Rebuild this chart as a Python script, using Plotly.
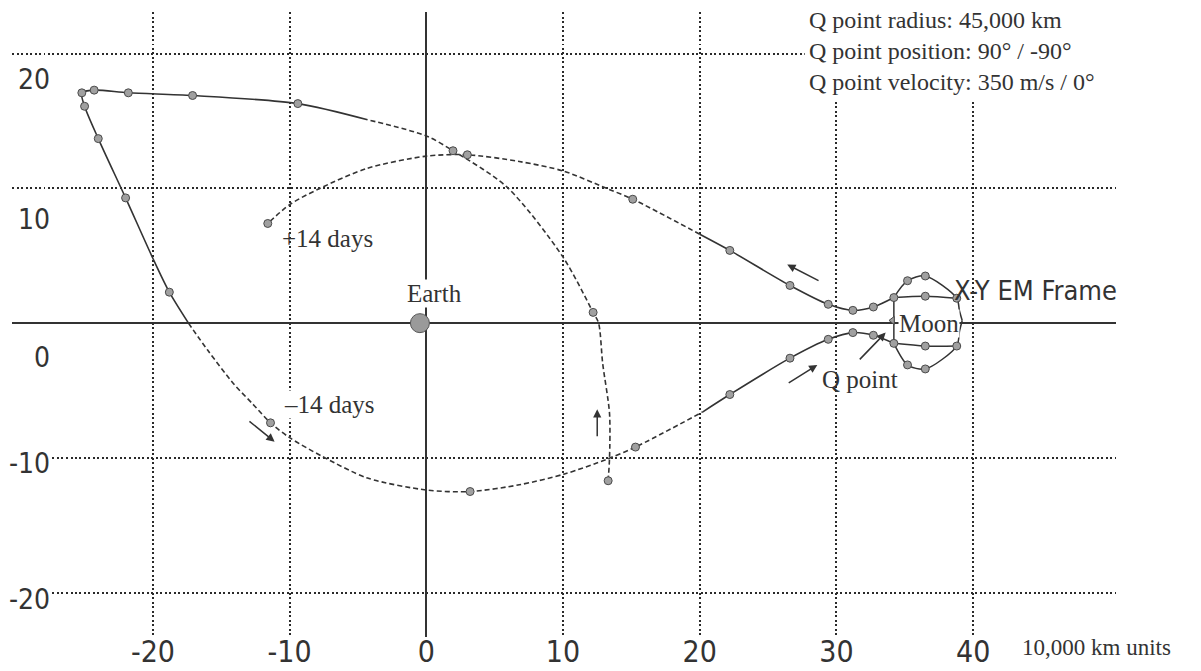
import plotly.graph_objects as go

# ---------------- data (10,000 km units, Earth-Moon rotating frame) ----------------
x_ticks = [-20, -10, 0, 10, 20, 30, 40]
x_tick_labels = ["-20", "-10", "0", "10", "20", "30", "40"]
y_ticks = [20, 10, 0, -10, -20]
y_tick_labels = ["20", "10", "0", "-10", "-20"]

# backward-propagated trajectory (time order, ends at the lower Q point)
past_x = [13.3, 13.4, 13.4, 12.9, 12.6, 12.2, 10.0, 5.9, 1.95, 0.0, -4.3, -9.4,
          -17.1, -21.8, -24.3, -25.2, -25.0, -24.0, -22.0, -20.0, -18.8, -17.4,
          -16.0, -14.1, -12.7, -11.4, -10.0, -7.6, -4.3, 0.1, 3.2, 6.8, 10.1,
          13.2, 15.3, 20.2, 22.2, 26.6, 29.4, 31.2, 32.7, 34.2]
past_y = [-11.7, -10.0, -6.7, -3.0, 0.0, 0.8, 4.9, 10.1, 12.8, 13.9, 15.1, 16.3,
          16.9, 17.1, 17.3, 17.1, 16.1, 13.7, 9.3, 4.8, 2.3, 0.0,
          -2.0, -4.5, -6.0, -7.4, -8.5, -9.9, -11.5, -12.4, -12.5, -12.0, -11.2,
          -10.1, -9.2, -6.6, -5.3, -2.6, -1.2, -0.7, -0.9, -1.5]
past_dot = [1, 0, 0, 0, 0, 1, 0, 0, 1, 0, 0, 1,
            1, 1, 1, 1, 1, 1, 1, 0, 1, 0,
            0, 0, 0, 1, 0, 0, 0, 0, 1, 0, 0,
            0, 1, 0, 1, 1, 1, 1, 1, 1]

# forward-propagated trajectory (from the upper Q point to +14 days)
future_x = [34.2, 32.7, 31.2, 29.4, 26.6, 22.2, 20.0, 15.1, 13.2, 10.0, 6.8,
            3.0, 0.0, -4.3, -7.8, -10.0, -11.6]
future_y = [1.9, 1.2, 0.95, 1.4, 2.8, 5.4, 6.6, 9.2, 10.0, 11.3, 12.0,
            12.5, 12.4, 11.5, 10.0, 8.8, 7.4]
future_dot = [1, 1, 1, 1, 1, 1, 0, 1, 0, 0, 0,
              1, 0, 0, 0, 0, 1]

# loops around the Moon
upper_outer_x = [34.2, 35.2, 36.5, 38.8, 39.0, 39.2]
upper_outer_y = [1.9, 3.15, 3.5, 1.85, 0.9, 0.2]
upper_outer_dot = [0, 1, 1, 1, 0, 0]
upper_inner_x = [34.2, 36.5, 38.8]
upper_inner_y = [1.9, 2.0, 1.85]
upper_inner_dot = [0, 1, 0]
lower_outer_x = [34.2, 35.2, 36.5, 38.8, 39.0, 39.2]
lower_outer_y = [-1.5, -3.1, -3.4, -1.7, -0.6, 0.2]
lower_outer_dot = [0, 1, 1, 1, 0, 0]
lower_inner_x = [34.2, 36.5, 38.8]
lower_inner_y = [-1.5, -1.7, -1.7]
lower_inner_dot = [0, 1, 0]
moon_edge_x = [34.2, 34.2]
moon_edge_y = [1.9, -1.5]
q_mark_x = [34.1]
q_mark_y = [0.2]

earth_x = [-0.47]
earth_y = [0.0]

# direction arrows: tail -> head
arrow_tail_x = [-13.05, 12.5, 26.4, 28.8, 31.6]
arrow_tail_y = [-7.2, -8.5, -4.5, 3.1, -2.8]
arrow_head_x = [-11.1, 12.5, 28.6, 26.4, 33.6]
arrow_head_y = [-8.8, -6.4, -3.1, 4.35, -0.7]

# text labels
info_lines = ["Q point radius: 45,000 km",
              "Q point position: 90\u00b0 / -90\u00b0",
              "Q point velocity: 350 m/s / 0\u00b0"]
label_texts = ["+14 days", "\u201314 days", "Earth", "Moon", "Q point"]
label_x = [-10.6, -10.5, -1.5, 36.8, 28.9]
label_y = [6.25, -6.05, 2.2, 0.0, -4.2]
frame_label = "X-Y EM Frame"
unit_label = "10,000 km units"

# ---------------- styling ----------------
INK = "#333333"
GRID = "#2a2a2a"
PLOTTER = "'Liberation Sans Narrow', 'DejaVu Sans Condensed', 'Roboto Condensed', 'DejaVu Sans Mono', monospace"
SERIF = "'Liberation Serif', 'DejaVu Serif', serif"
DOT_FILL = "#a0a0a0"

fig = go.Figure()


def add_path(xs, ys, dash, width=1.6):
    fig.add_trace(go.Scatter(x=xs, y=ys, mode="lines",
                             line=dict(color=INK, width=width, dash=dash,
                                       shape="spline", smoothing=0.8),
                             hoverinfo="skip"))


def add_dots(xs, ys, flags):
    fx = [x for x, f in zip(xs, flags) if f]
    fy = [y for y, f in zip(ys, flags) if f]
    fig.add_trace(go.Scatter(x=fx, y=fy, mode="markers",
                             marker=dict(size=8, color=DOT_FILL,
                                         line=dict(color="#4a4a4a", width=1)),
                             hoverinfo="skip"))


DASH = "5px,3px"
# backward trajectory: dashed / solid portions as in the plotter output
add_path(past_x[0:11], past_y[0:11], DASH)
add_path(past_x[10:22], past_y[10:22], "solid")
add_path(past_x[21:36], past_y[21:36], DASH)
add_path(past_x[35:], past_y[35:], "solid")
# forward trajectory
add_path(future_x[0:7], future_y[0:7], "solid")
add_path(future_x[6:], future_y[6:], DASH)
# Moon loops
for lx, ly in [(upper_outer_x, upper_outer_y), (upper_inner_x, upper_inner_y),
               (lower_outer_x, lower_outer_y), (lower_inner_x, lower_inner_y)]:
    add_path(lx, ly, "solid", 1.5)
fig.add_trace(go.Scatter(x=moon_edge_x, y=moon_edge_y, mode="lines",
                         line=dict(color=INK, width=1.5), hoverinfo="skip"))

add_dots(past_x, past_y, past_dot)
add_dots(future_x, future_y, future_dot)
add_dots(upper_outer_x, upper_outer_y, upper_outer_dot)
add_dots(upper_inner_x, upper_inner_y, upper_inner_dot)
add_dots(lower_outer_x, lower_outer_y, lower_outer_dot)
add_dots(lower_inner_x, lower_inner_y, lower_inner_dot)
fig.add_trace(go.Scatter(x=q_mark_x, y=q_mark_y, mode="markers",
                         marker=dict(symbol="triangle-left", size=7, color=DOT_FILL,
                                     line=dict(color="#4a4a4a", width=1)),
                         hoverinfo="skip"))
fig.add_trace(go.Scatter(x=earth_x, y=earth_y, mode="markers",
                         marker=dict(size=19, color="#9a9a9a",
                                     line=dict(color="#555555", width=1)),
                         hoverinfo="skip"))

annotations = []
# arrows
for tx, ty, hx, hy in zip(arrow_tail_x, arrow_tail_y, arrow_head_x, arrow_head_y):
    annotations.append(dict(x=hx, y=hy, ax=tx, ay=ty, xref="x", yref="y",
                            axref="x", ayref="y", text="", showarrow=True,
                            arrowhead=2, arrowsize=1.1, arrowwidth=1.5,
                            arrowcolor=INK))

# y tick labels (drawn as text next to the grid)
y_label_shift = [-26, -31, -34, -6, -7]
for v, t, s in zip(y_ticks, y_tick_labels, y_label_shift):
    annotations.append(dict(x=-27.4, y=v, xref="x", yref="y", text=t,
                            showarrow=False, xanchor="right", yanchor="middle",
                            yshift=s, bgcolor="white", borderpad=1,
                            font=dict(family=PLOTTER, size=28, color=INK)))

# text labels
label_bg = [None, "white", "white", "white", None]
for t, x, y, bg in zip(label_texts, label_x, label_y, label_bg):
    a = dict(x=x, y=y, xref="x", yref="y", text=t, showarrow=False,
             xanchor="center" if t == "Moon" else "left", yanchor="middle",
             borderpad=0, font=dict(family=SERIF, size=25, color=INK))
    if bg:
        a["bgcolor"] = bg
    annotations.append(a)

annotations.append(dict(x=27.85, y=20.2, xref="x", yref="y",
                        text="<br>".join(info_lines), align="left",
                        showarrow=False, xanchor="left", yanchor="middle",
                        font=dict(family=SERIF, size=24, color=INK)))
annotations.append(dict(x=38.45, y=2.45, xref="x", yref="y", text=frame_label,
                        showarrow=False, xanchor="left", yanchor="middle",
                        font=dict(family=PLOTTER, size=27, color=INK)))
annotations.append(dict(x=43.4, y=-0.016, xref="x", yref="paper", text=unit_label,
                        showarrow=False, xanchor="left", yanchor="middle",
                        font=dict(family=SERIF, size=23, color=INK)))

# white panel behind the info text that interrupts the grid (as in the original)
shapes = [dict(type="rect", xref="paper", yref="paper",
               x0=0.718, x1=1.0, y0=0.86, y1=1.01, layer="above",
               fillcolor="white", line=dict(width=0))]

# the page body adds an 8 px offset, so the margins are trimmed on the top/left
fig.update_layout(
    width=1201, height=671,
    margin=dict(l=4, r=93, t=4, b=42, autoexpand=False),
    plot_bgcolor="white", paper_bgcolor="white",
    showlegend=False,
    annotations=annotations,
    shapes=shapes,
    xaxis=dict(range=[-30.31, 50.45], tickmode="array", tickvals=x_ticks,
               ticktext=x_tick_labels, showgrid=True, gridcolor=GRID,
               griddash="2px,2.5px", gridwidth=1.7, zeroline=True,
               zerolinecolor=INK, zerolinewidth=1.6, showline=False, ticks="",
               tickfont=dict(family=PLOTTER, size=30, color=INK),
               ticklabelstandoff=-6,
               automargin=False, fixedrange=True),
    yaxis=dict(range=[-23.3, 23.1], tickmode="array", tickvals=y_ticks,
               showticklabels=False, showgrid=True, gridcolor=GRID,
               griddash="2px,2.5px", gridwidth=1.7, zeroline=True,
               zerolinecolor=INK, zerolinewidth=1.6, showline=False, ticks="",
               automargin=False, fixedrange=True),
)

fig.write_html("out.html")
